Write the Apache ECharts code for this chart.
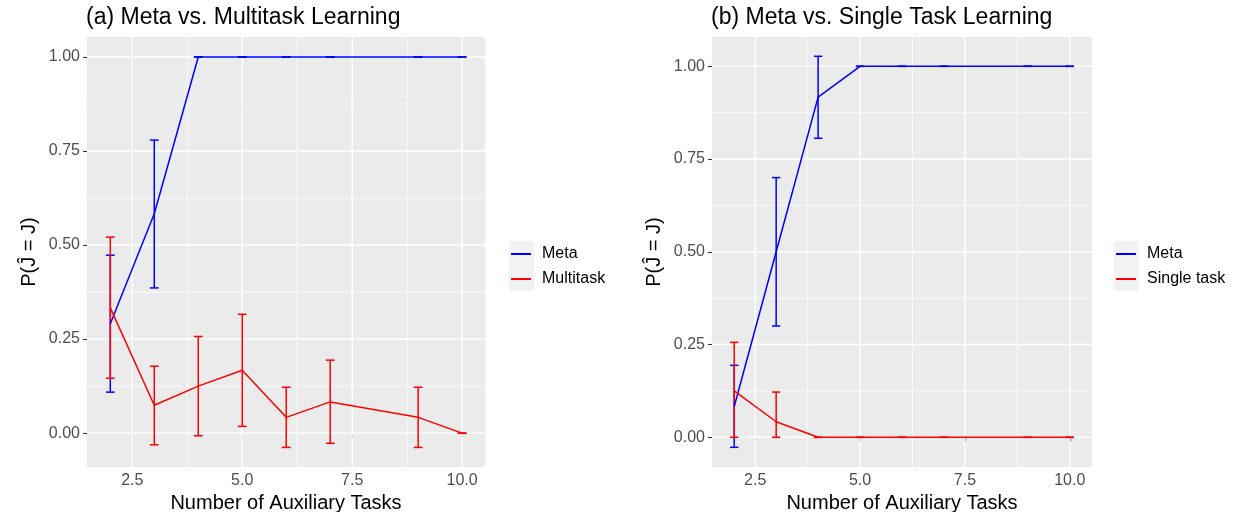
<!DOCTYPE html>
<html>
<head>
<meta charset="utf-8">
<script src="https://cdn.jsdelivr.net/npm/echarts@6/dist/echarts.min.js"></script>
<style>
html,body{margin:0;padding:0;background:#fff;}
#chart{width:1240px;height:512px;}
</style>
</head>
<body>
<div id="chart"></div>
<script>
// ---- data ----
const xTasks = [2, 3, 4, 5, 6, 7, 9, 10];

// (a) Meta vs. Multitask
const metaA   = [0.291, 0.583, 1, 1, 1, 1, 1, 1];
const metaALo = [0.109, 0.386, 1, 1, 1, 1, 1, 1];
const metaAHi = [0.473, 0.779, 1, 1, 1, 1, 1, 1];
const multi   = [0.333, 0.074, 0.125, 0.167, 0.042, 0.083, 0.042, 0];
const multiLo = [0.146, -0.031, -0.007, 0.018, -0.038, -0.027, -0.038, 0];
const multiHi = [0.521, 0.178, 0.257, 0.316, 0.122, 0.194, 0.122, 0];

// (b) Meta vs. Single task
const metaB   = [0.083, 0.500, 0.917, 1, 1, 1, 1, 1];
const metaBLo = [-0.027, 0.300, 0.806, 1, 1, 1, 1, 1];
const metaBHi = [0.194, 0.700, 1.027, 1, 1, 1, 1, 1];
const single   = [0.125, 0.042, 0, 0, 0, 0, 0, 0];
const singleLo = [0, 0, 0, 0, 0, 0, 0, 0];
const singleHi = [0.256, 0.122, 0, 0, 0, 0, 0, 0];

// axis breaks / tick labels
const xMajor = [2.5, 5, 7.5, 10];
const xMinor = [3.75, 6.25, 8.75];
const yMajor = [0, 0.25, 0.5, 0.75, 1];
const yMinor = [0.125, 0.375, 0.625, 0.875];
const xTickLabels = ['2.5', '5.0', '7.5', '10.0'];
const yTickLabels = ['0.00', '0.25', '0.50', '0.75', '1.00'];

const titles = ['(a) Meta vs. Multitask Learning', '(b) Meta vs. Single Task Learning'];
const legendNames = [['Meta', 'Multitask'], ['Meta', 'Single task']];
const xTitle = 'Number of Auxiliary Tasks';
const yTitle = 'P(\u0134 = J)';

// ---- chart ----
const FONT = 'Liberation Sans, Arial, sans-serif';
const BLUE = '#0000FF', RED = '#FF0000';
const xRange = [[1.47, 10.52], [1.47, 10.53]];
const yRange = [[-0.090, 1.053], [-0.080, 1.079]];

function pairs(xs, ys) { return xs.map((x, i) => [x, ys[i]]); }
function triples(xs, lo, hi) { return xs.map((x, i) => [x, lo[i], hi[i]]); }

function errRender(color) {
  return function (params, api) {
    const x = api.value(0), lo = api.value(1), hi = api.value(2);
    const w = 0.1;
    const pLo = api.coord([x, lo]), pHi = api.coord([x, hi]);
    const lL = api.coord([x - w, lo]), lR = api.coord([x + w, lo]);
    const hL = api.coord([x - w, hi]), hR = api.coord([x + w, hi]);
    const st = { stroke: color, lineWidth: 1.5 };
    return {
      type: 'group',
      children: [
        { type: 'line', shape: { x1: pLo[0], y1: pLo[1], x2: pHi[0], y2: pHi[1] }, style: st },
        { type: 'line', shape: { x1: lL[0], y1: lL[1], x2: lR[0], y2: lR[1] }, style: st },
        { type: 'line', shape: { x1: hL[0], y1: hL[1], x2: hR[0], y2: hR[1] }, style: st }
      ]
    };
  };
}

function gridRender(vertical, width) {
  return function (params, api) {
    const cs = params.coordSys;
    const p = api.coord([api.value(0), api.value(1)]);
    const shape = vertical
      ? { x1: p[0], y1: cs.y, x2: p[0], y2: cs.y + cs.height }
      : { x1: cs.x, y1: p[1], x2: cs.x + cs.width, y2: p[1] };
    return { type: 'line', shape: shape, style: { stroke: '#FFFFFF', lineWidth: width } };
  };
}

const grids = [
  { left: 87, top: 37, width: 398, height: 430 },
  { left: 712, top: 37, width: 380, height: 430 }
];

const option = {
  animation: false,
  backgroundColor: '#FFFFFF',
  textStyle: { fontFamily: FONT },
  title: titles.map((t, i) => ({
    text: t, left: grids[i].left - 1, top: 6, padding: 0,
    textStyle: { fontSize: 23, fontWeight: 'normal', color: '#000', fontFamily: FONT }
  })),
  legend: legendNames.map((names, i) => ({
    data: names,
    orient: 'vertical',
    left: i === 0 ? 511 : 1116,
    top: 245,
    padding: 0,
    itemWidth: 20,
    itemHeight: 2,
    itemGap: 7,
    icon: 'rect',
    selectedMode: false,
    textStyle: { fontSize: 16, color: '#000', fontFamily: FONT, lineHeight: 18, padding: [0, 0, 0, 6] }
  })),
  graphic: [
    { type: 'rect', left: 509, top: 241, shape: { width: 25, height: 50 }, style: { fill: '#F2F2F2' }, z: -1 },
    { type: 'rect', left: 1114, top: 241, shape: { width: 25, height: 50 }, style: { fill: '#F2F2F2' }, z: -1 }
  ],
  grid: grids.map(g => Object.assign({ show: true, backgroundColor: '#EBEBEB', borderWidth: 0, containLabel: false, outerBoundsMode: 'none' }, g)),
  xAxis: [0, 1].map(i => ({
    type: 'value', gridIndex: i, min: xRange[i][0], max: xRange[i][1],
    name: xTitle, nameLocation: 'middle', nameGap: 22,
    nameTextStyle: { fontSize: 20, color: '#000', fontFamily: FONT },
    axisLine: { show: false },
    splitLine: { show: false },
    axisTick: { show: true, length: 4, customValues: xMajor, lineStyle: { color: '#333333', width: 1.1 } },
    axisLabel: {
      customValues: xMajor, margin: 6, fontSize: 16, color: '#4D4D4D', fontFamily: FONT,
      formatter: v => xTickLabels[xMajor.indexOf(v)] ?? String(v)
    }
  })),
  yAxis: [0, 1].map(i => ({
    type: 'value', gridIndex: i, min: yRange[i][0], max: yRange[i][1],
    name: yTitle, nameLocation: 'middle', nameGap: 48, nameRotate: 90,
    nameTextStyle: { fontSize: 20, color: '#000', fontFamily: FONT },
    axisLine: { show: false },
    splitLine: { show: false },
    axisTick: { show: true, length: 4, customValues: yMajor, lineStyle: { color: '#333333', width: 1.1 } },
    axisLabel: {
      customValues: yMajor, margin: 7, fontSize: 16, color: '#4D4D4D', fontFamily: FONT,
      formatter: v => { const k = yMajor.findIndex(t => Math.abs(t - v) < 1e-9); return k >= 0 ? yTickLabels[k] : String(v); }
    }
  })),
  series: []
};

// grid lines (through the axis scales)
[0, 1].forEach(i => {
  const xMid = (xRange[i][0] + xRange[i][1]) / 2;
  const yMid = (yRange[i][0] + yRange[i][1]) / 2;
  option.series.push(
    { type: 'custom', xAxisIndex: i, yAxisIndex: i, silent: true, z: 1, clip: false,
      renderItem: gridRender(true, 0.7), data: xMinor.map(v => [v, yMid]) },
    { type: 'custom', xAxisIndex: i, yAxisIndex: i, silent: true, z: 1, clip: false,
      renderItem: gridRender(false, 0.7), data: yMinor.map(v => [xMid, v]) },
    { type: 'custom', xAxisIndex: i, yAxisIndex: i, silent: true, z: 1, clip: false,
      renderItem: gridRender(true, 1.4), data: xMajor.map(v => [v, yMid]) },
    { type: 'custom', xAxisIndex: i, yAxisIndex: i, silent: true, z: 1, clip: false,
      renderItem: gridRender(false, 1.4), data: yMajor.map(v => [xMid, v]) }
  );
});

function addPanel(i, names, m1, lo1, hi1, m2, lo2, hi2) {
  option.series.push(
    { name: names[0], type: 'line', xAxisIndex: i, yAxisIndex: i, data: pairs(xTasks, m1),
      showSymbol: false, symbol: 'none', color: BLUE, lineStyle: { color: BLUE, width: 1.5 }, z: 3, silent: true },
    { name: names[1], type: 'line', xAxisIndex: i, yAxisIndex: i, data: pairs(xTasks, m2),
      showSymbol: false, symbol: 'none', color: RED, lineStyle: { color: RED, width: 1.5 }, z: 3, silent: true },
    { name: names[0] + ' err', type: 'custom', xAxisIndex: i, yAxisIndex: i, z: 3, silent: true,
      encode: { x: 0, y: [1, 2] }, renderItem: errRender(BLUE), data: triples(xTasks, lo1, hi1) },
    { name: names[1] + ' err', type: 'custom', xAxisIndex: i, yAxisIndex: i, z: 3, silent: true,
      encode: { x: 0, y: [1, 2] }, renderItem: errRender(RED), data: triples(xTasks, lo2, hi2) }
  );
}
addPanel(0, legendNames[0], metaA, metaALo, metaAHi, multi, multiLo, multiHi);
addPanel(1, legendNames[1], metaB, metaBLo, metaBHi, single, singleLo, singleHi);

const chart = echarts.init(document.getElementById('chart'), null, { renderer: 'canvas' });
chart.setOption(option);
</script>
</body>
</html>
